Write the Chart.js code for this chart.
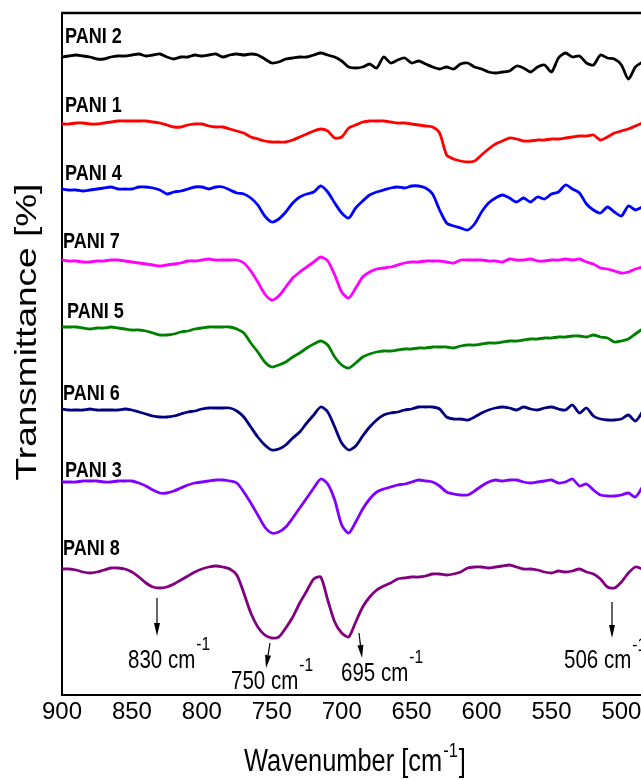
<!DOCTYPE html>
<html>
<head>
<meta charset="utf-8">
<script src="https://cdn.jsdelivr.net/npm/chart.js@4.4.0/dist/chart.umd.min.js"></script>
<style>
  html, body { margin: 0; padding: 0; background: #fff; overflow: hidden; }
  #wrap { width: 641px; height: 780px; }
</style>
</head>
<body>
<div id="wrap"><canvas id="ftir" width="641" height="780"></canvas></div>
<script>
// wavenumbers (cm-1), read every 5 cm-1 from the figure
const wavenumbers = [900,895,890,885,880,875,870,865,860,855,850,845,840,835,830,825,820,815,810,805,
  800,795,790,785,780,775,770,765,760,755,750,745,740,735,730,725,720,715,710,705,
  700,695,690,685,680,675,670,665,660,655,650,645,640,635,630,625,620,615,610,605,
  600,595,590,585,580,575,570,565,560,555,550,545,540,535,530,525,520,515,510,505,
  500,495,490,485];

// offset transmittance (arbitrary units, stacked)
const pani2 = [640,641,642,641,640,638,638,640,641,641,642,643,641,642,643,640,638,640,640,642,
  641,642,643,640,642,643,642,643,642,638,634,635,638,639,640,640,642,644,642,640,
  636,630,629,630,633,629,640,634,637,639,634,636,633,630,628,630,628,633,634,630,
  628,625,624,625,626,631,629,625,630,632,625,639,644,640,641,634,632,642,639,638,
  632,618,630,635];
const pani1 = [573,573,574,574,573,573,574,575,576,576,576,576,576,575,574,572,570,570,572,573,
  573,571,570,570,568,566,564,560,558,556,555,555,555,557,560,563,566,568,566,559,
  560,569,572,575,576,576,576,575,574,574,573,572,571,570,564,542,538,536,535,536,
  542,548,553,556,559,558,556,556,557,557,558,558,559,560,561,561,562,557,560,564,
  566,568,571,574];
const pani4 = [508,507,507,506,507,508,509,510,508,508,508,510,510,509,507,503,505,506,508,510,
  510,508,510,510,507,504,503,499,492,481,475,478,485,494,500,503,505,511,505,494,
  484,479,489,496,502,505,507,509,510,509,511,511,509,503,487,474,471,469,467,473,
  485,494,499,502,499,495,499,495,500,498,503,505,512,508,504,493,487,484,490,485,
  481,491,487,490];
const pani7 = [437,436,436,435,435,436,436,437,437,436,435,434,433,432,431,432,433,434,436,436,
  437,438,437,437,437,437,434,426,415,403,397,401,410,419,425,430,435,440,436,422,
  405,399,409,420,425,428,429,430,432,434,435,435,436,436,436,435,434,437,437,437,
  437,436,436,435,438,437,437,438,436,436,437,437,438,437,438,435,433,429,428,426,
  424,425,428,430];
const pani5 = [370,370,370,369,368,369,369,370,369,368,367,367,366,364,362,362,363,365,366,368,
  369,370,370,370,370,368,364,354,345,335,330,332,335,340,344,349,353,356,352,340,
  332,329,334,340,343,345,346,346,347,348,348,349,349,350,350,350,349,351,352,352,
  353,354,354,355,356,356,357,358,358,359,359,360,360,361,361,360,362,360,359,355,
  356,358,363,368];
const pani6 = [288,287,287,287,288,287,287,287,287,288,287,285,283,281,280,280,281,283,285,286,
  288,289,289,289,289,286,280,270,260,252,247,248,252,259,265,274,282,290,285,270,
  254,247,251,261,270,277,282,284,285,287,288,290,290,290,288,280,278,278,277,280,
  284,287,289,290,289,287,290,288,287,289,290,288,287,292,284,289,281,278,277,277,
  278,282,276,285];
const pani3 = [215,215,215,216,216,216,215,215,216,216,216,214,211,207,204,204,206,209,212,214,
  215,216,217,217,216,214,205,194,182,170,164,165,170,179,189,199,209,218,213,197,
  172,164,175,188,198,205,208,210,212,213,215,217,216,215,211,205,203,202,202,206,
  211,215,217,216,217,217,215,214,215,216,217,214,215,218,211,213,207,202,201,201,
  202,204,200,210];
const pani8 = [128,128,127,125,124,125,127,129,129,128,125,120,114,110,109,110,113,117,121,125,
  128,130,131,130,128,122,104,84,70,62,59,60,69,80,94,106,118,120,97,75,
  64,60,75,90,100,107,111,114,118,119,120,120,121,123,123,122,123,125,129,130,
  130,129,130,131,132,130,128,128,127,125,124,126,125,126,128,125,123,118,110,109,
  115,124,130,128];

const seriesNames = ['PANI 2', 'PANI 1', 'PANI 4', 'PANI 7', 'PANI 5', 'PANI 6', 'PANI 3', 'PANI 8'];
const seriesValues = [pani2, pani1, pani4, pani7, pani5, pani6, pani3, pani8];
const xTicks = [900, 850, 800, 750, 700, 650, 600, 550, 500];
const peakLabels = ['830', '750', '695', '506'];

const colors = ['#000000', '#ff0000', '#0000ff', '#ff00ff', '#008000', '#000080', '#8000ff', '#800080'];
const FONT = '"Liberation Sans", Arial, sans-serif';

// text squeezed sideways like the original figure
function narrowText(ctx, str, x, y, size, weight) {
  ctx.save();
  ctx.translate(x, y);
  ctx.scale(0.82, 1);
  ctx.font = (weight || 'normal') + ' ' + size + 'px ' + FONT;
  ctx.fillText(str, 0, 0);
  var w = ctx.measureText(str).width * 0.82;
  ctx.restore();
  return w;
}

function arrow(ctx, x1, y1, x2, y2) {
  var ang = Math.atan2(y2 - y1, x2 - x1);
  var hl = 13, hw = 3;
  ctx.beginPath();
  ctx.moveTo(x1, y1);
  ctx.lineTo(x2 - Math.cos(ang) * hl, y2 - Math.sin(ang) * hl);
  ctx.stroke();
  ctx.beginPath();
  ctx.moveTo(x2, y2);
  ctx.lineTo(x2 - Math.cos(ang) * hl - Math.sin(ang) * hw, y2 - Math.sin(ang) * hl + Math.cos(ang) * hw);
  ctx.lineTo(x2 - Math.cos(ang) * hl + Math.sin(ang) * hw, y2 - Math.sin(ang) * hl - Math.cos(ang) * hw);
  ctx.closePath();
  ctx.fill();
}

const decorations = {
  id: 'decorations',
  afterDraw(chart) {
    var ctx = chart.ctx, a = chart.chartArea;
    ctx.save();
    ctx.fillStyle = '#000';
    ctx.strokeStyle = '#000';
    ctx.textAlign = 'left';
    ctx.textBaseline = 'alphabetic';

    // top frame line
    ctx.lineWidth = 2.5;
    ctx.beginPath();
    ctx.moveTo(a.left - 1, a.top);
    ctx.lineTo(a.right, a.top);
    ctx.stroke();

    // sample names
    var labelPos = [[65, 43], [65, 112], [65, 180], [63, 248], [67, 318], [63, 400], [65, 477], [63, 555]];
    seriesNames.forEach(function (n, i) {
      narrowText(ctx, n, labelPos[i][0], labelPos[i][1], 22, 'bold');
    });

    // peak arrows and labels
    ctx.lineWidth = 1.2;
    var marks = [
      { arr: [157, 598, 157, 636], txt: [128, 668], sup: 650 },
      { arr: [270, 643, 266, 668], txt: [231, 689], sup: 671 },
      { arr: [359, 633, 362, 658], txt: [341, 681], sup: 663 },
      { arr: [612, 602, 612, 638], txt: [564, 668], sup: 651 }
    ];
    marks.forEach(function (m, i) {
      arrow(ctx, m.arr[0], m.arr[1], m.arr[2], m.arr[3]);
      var w = narrowText(ctx, peakLabels[i] + ' cm', m.txt[0], m.txt[1], 25);
      narrowText(ctx, '-1', m.txt[0] + w + 1, m.sup, 19);
    });

    // x axis title
    var w1 = narrowText(ctx, 'Wavenumber [cm', 244, 771, 31);
    var w2 = narrowText(ctx, '-1', 244 + w1 + 1, 757, 20);
    narrowText(ctx, ']', 244 + w1 + w2 + 2, 771, 31);

    // y axis title
    ctx.save();
    ctx.translate(36, 332);
    ctx.scale(0.82, 1);
    ctx.rotate(-Math.PI / 2);
    ctx.textAlign = 'center';
    ctx.font = '37px ' + FONT;
    ctx.fillText('Transmittance [%]', 0, 0);
    ctx.restore();

    ctx.restore();
  }
};

new Chart(document.getElementById('ftir'), {
  type: 'line',
  data: {
    datasets: seriesNames.map(function (name, i) {
      return {
        label: name,
        data: seriesValues[i].map(function (v, j) { return { x: wavenumbers[j], y: v }; }),
        borderColor: colors[i],
        borderWidth: 2.8,
        pointRadius: 0,
        tension: 0.25,
        fill: false
      };
    })
  },
  options: {
    responsive: false,
    animation: false,
    devicePixelRatio: 1,
    layout: { padding: { top: 13, left: 0, right: 0, bottom: 0 } },
    plugins: { legend: { display: false }, tooltip: { enabled: false } },
    scales: {
      x: {
        type: 'linear',
        min: 486,
        max: 900,
        reverse: true,
        grid: { display: false, drawTicks: false },
        border: { display: true, color: '#000', width: 2 },
        ticks: {
          color: '#000',
          padding: 3,
          maxRotation: 0,
          autoSkip: false,
          font: { family: '"Liberation Sans Narrow", "Liberation Sans", Arial, sans-serif', size: 24 }
        },
        afterBuildTicks: function (s) { s.ticks = xTicks.map(function (v) { return { value: v }; }); },
        afterFit: function (s) { s.height = 85; s.paddingLeft = 0; s.paddingRight = 0; }
      },
      y: {
        min: 2,
        max: 684,
        grid: { display: false, drawTicks: false },
        border: { display: true, color: '#000', width: 2 },
        ticks: { display: false },
        afterFit: function (s) { s.width = 62; s.paddingTop = 0; s.paddingBottom = 0; }
      }
    }
  },
  plugins: [decorations]
});
</script>
</body>
</html>
